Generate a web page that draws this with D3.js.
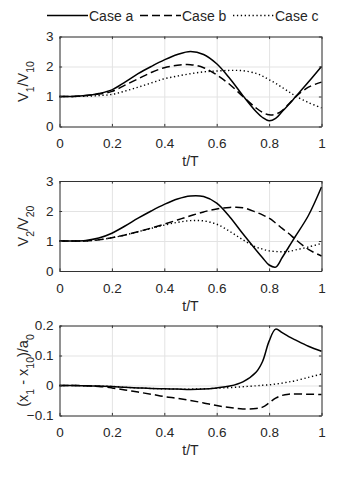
<!DOCTYPE html>
<html>
<head>
<meta charset="utf-8">
<script src="https://cdn.jsdelivr.net/npm/d3@7"></script>
<style>
  body { margin: 0; background: #fff; }
  svg text { font-family: "Liberation Sans", Arial, Helvetica, sans-serif; fill: #262626; }
</style>
</head>
<body>
<div id="chart"></div>
<script>
// Time samples (t/T) shared by all series
var tGrid = [0, 0.05, 0.1, 0.15, 0.2, 0.25, 0.3, 0.35, 0.4, 0.45, 0.5, 0.55, 0.6, 0.65, 0.7, 0.75, 0.775, 0.8, 0.825, 0.85, 0.875, 0.9, 0.95, 1];

// Panel 1: V1/V10
var v1CaseA = [1.0, 1.0, 1.03, 1.1, 1.22, 1.48, 1.76, 2.0, 2.22, 2.4, 2.5, 2.4, 2.09, 1.6, 1.03, 0.5, 0.3, 0.19, 0.27, 0.5, 0.73, 0.98, 1.48, 2.0];
var v1CaseB = [1.0, 1.0, 1.03, 1.08, 1.17, 1.38, 1.59, 1.8, 1.96, 2.04, 2.06, 1.96, 1.72, 1.4, 1.0, 0.62, 0.47, 0.39, 0.41, 0.53, 0.75, 0.98, 1.31, 1.48];
var v1CaseC = [1.0, 1.0, 1.01, 1.03, 1.07, 1.18, 1.31, 1.45, 1.59, 1.68, 1.76, 1.82, 1.85, 1.87, 1.86, 1.77, 1.68, 1.56, 1.44, 1.3, 1.16, 1.02, 0.8, 0.62];

// Panel 2: V2/V20
var v2CaseA = [1.0, 1.0, 1.02, 1.1, 1.26, 1.5, 1.76, 2.0, 2.22, 2.4, 2.5, 2.48, 2.26, 1.8, 1.24, 0.7, 0.44, 0.2, 0.13, 0.45, 0.8, 1.15, 1.85, 2.8];
var v2CaseB = [1.0, 1.0, 1.0, 1.04, 1.11, 1.2, 1.31, 1.43, 1.56, 1.7, 1.84, 1.97, 2.07, 2.12, 2.11, 1.96, 1.87, 1.76, 1.6, 1.42, 1.25, 1.06, 0.72, 0.5];
var v2CaseC = [1.0, 1.0, 1.0, 1.04, 1.11, 1.2, 1.31, 1.42, 1.53, 1.62, 1.68, 1.67, 1.56, 1.32, 1.04, 0.8, 0.73, 0.67, 0.65, 0.64, 0.65, 0.7, 0.8, 0.92];

// Panel 3: (x1 - x10)/a0
var x1CaseA = [0, 0, -0.001, -0.002, -0.003, -0.006, -0.008, -0.01, -0.011, -0.012, -0.013, -0.012, -0.008, -0.002, 0.012, 0.044, 0.08, 0.148, 0.188, 0.176, 0.163, 0.152, 0.131, 0.114];
var x1CaseB = [0, 0, -0.001, -0.003, -0.008, -0.015, -0.022, -0.029, -0.037, -0.043, -0.05, -0.058, -0.067, -0.073, -0.078, -0.077, -0.072, -0.058, -0.042, -0.033, -0.029, -0.028, -0.029, -0.03];
var x1CaseC = [0, 0, -0.001, -0.002, -0.003, -0.006, -0.008, -0.01, -0.011, -0.012, -0.012, -0.011, -0.009, -0.007, -0.004, -0.001, 0.001, 0.002, 0.005, 0.008, 0.012, 0.016, 0.027, 0.038];

var xTicks = [0, 0.2, 0.4, 0.6, 0.8, 1];
var caseNames = ["Case a", "Case b", "Case c"];

var svg = d3.select("#chart").append("svg")
    .attr("width", 339)
    .attr("height", 482);

// line styles for the three cases
var dashes = [null, "8,4", "1.3,2.6"];

var panels = [
  { top: 36.5, yDomain: [0, 3], yTicks: [0, 1, 2, 3], series: [v1CaseA, v1CaseB, v1CaseC],
    label: [["V", false], ["1", true], ["/V", false], ["10", true]] },
  { top: 181, yDomain: [0, 3], yTicks: [0, 1, 2, 3], series: [v2CaseA, v2CaseB, v2CaseC],
    label: [["V", false], ["2", true], ["/V", false], ["20", true]] },
  { top: 325.5, yDomain: [-0.1, 0.2], yTicks: [-0.1, 0, 0.1, 0.2], series: [x1CaseA, x1CaseB, x1CaseC],
    label: [["(x", false], ["1", true], [" - x", false], ["10", true], [")/a", false], ["0", true]] }
];

var left = 59.5, right = 321.5, ph = 90;
var x = d3.scaleLinear().domain([0, 1]).range([left, right]);

panels.forEach(function(p) {
  var y = d3.scaleLinear().domain(p.yDomain).range([p.top + ph, p.top]);
  var g = svg.append("g");

  // grid
  g.append("g")
      .attr("transform", "translate(0," + (p.top + ph) + ")")
      .call(d3.axisBottom(x).tickValues(xTicks).tickSize(-ph).tickFormat(""))
      .call(function(s) { s.select(".domain").remove(); s.selectAll("line").attr("stroke", "#e3e3e3"); });
  g.append("g")
      .attr("transform", "translate(" + left + ",0)")
      .call(d3.axisLeft(y).tickValues(p.yTicks).tickSize(-(right - left)).tickFormat(""))
      .call(function(s) { s.select(".domain").remove(); s.selectAll("line").attr("stroke", "#e3e3e3"); });

  // curves
  var line = d3.line()
      .x(function(d, i) { return x(tGrid[i]); })
      .y(function(d) { return y(d); })
      .curve(d3.curveCatmullRom.alpha(0.5));
  p.series.forEach(function(vals, k) {
    g.append("path")
        .datum(vals)
        .attr("fill", "none")
        .attr("stroke", "#000")
        .attr("stroke-width", k == 2 ? 1.4 : 1.5)
        .attr("stroke-dasharray", dashes[k])
        .attr("d", line);
  });

  // axes with inward ticks
  var fmt = function(d) { return d3.format("")(+d.toFixed(2)); };
  var xa = g.append("g")
      .attr("transform", "translate(0," + (p.top + ph) + ")")
      .call(d3.axisBottom(x).tickValues(xTicks).tickSizeInner(-2.6).tickSizeOuter(0).tickPadding(12).tickFormat(fmt));
  var ya = g.append("g")
      .attr("transform", "translate(" + left + ",0)")
      .call(d3.axisLeft(y).tickValues(p.yTicks).tickSizeInner(-2.6).tickSizeOuter(0).tickPadding(6).tickFormat(fmt));
  var ta = g.append("g")
      .attr("transform", "translate(0," + p.top + ")")
      .call(d3.axisTop(x).tickValues(xTicks).tickSizeInner(-2.6).tickSizeOuter(0).tickFormat(""));
  var ra = g.append("g")
      .attr("transform", "translate(" + right + ",0)")
      .call(d3.axisRight(y).tickValues(p.yTicks).tickSizeInner(-2.6).tickSizeOuter(0).tickFormat(""));
  [xa, ya, ta, ra].forEach(function(a) {
    a.select(".domain").attr("stroke", "#333").attr("stroke-width", 1);
    a.selectAll("line").attr("stroke", "#333");
    a.selectAll("text").attr("font-size", 13.5).attr("fill", "#262626")
        .attr("font-family", "'Liberation Sans', Arial, sans-serif");
  });

  // x label
  g.append("text")
      .attr("x", (left + right) / 2)
      .attr("y", p.top + ph + 39.5)
      .attr("text-anchor", "middle")
      .attr("font-size", 14)
      .text("t/T");

  // y label with subscripts
  var yl = g.append("text")
      .attr("transform", "translate(28," + (p.top + ph / 2) + ") rotate(-90)")
      .attr("text-anchor", "middle")
      .attr("font-size", 14.5);
  p.label.forEach(function(part) {
    var ts = yl.append("tspan").text(part[0]);
    if (part[1]) ts.attr("baseline-shift", "sub").attr("font-size", 10.5);
  });
});

// legend
var legend = svg.append("g").attr("class", "legend");
caseNames.forEach(function(name, i) {
  var lx = 47 + i * 93;
  legend.append("line")
      .attr("x1", lx).attr("x2", lx + 41)
      .attr("y1", 15.5).attr("y2", 15.5)
      .attr("stroke", "#000")
      .attr("stroke-width", 1.5)
      .attr("stroke-dasharray", dashes[i]);
  legend.append("text")
      .attr("x", lx + 42)
      .attr("y", 20.5)
      .attr("font-size", 14)
      .text(name);
});
</script>
</body>
</html>
